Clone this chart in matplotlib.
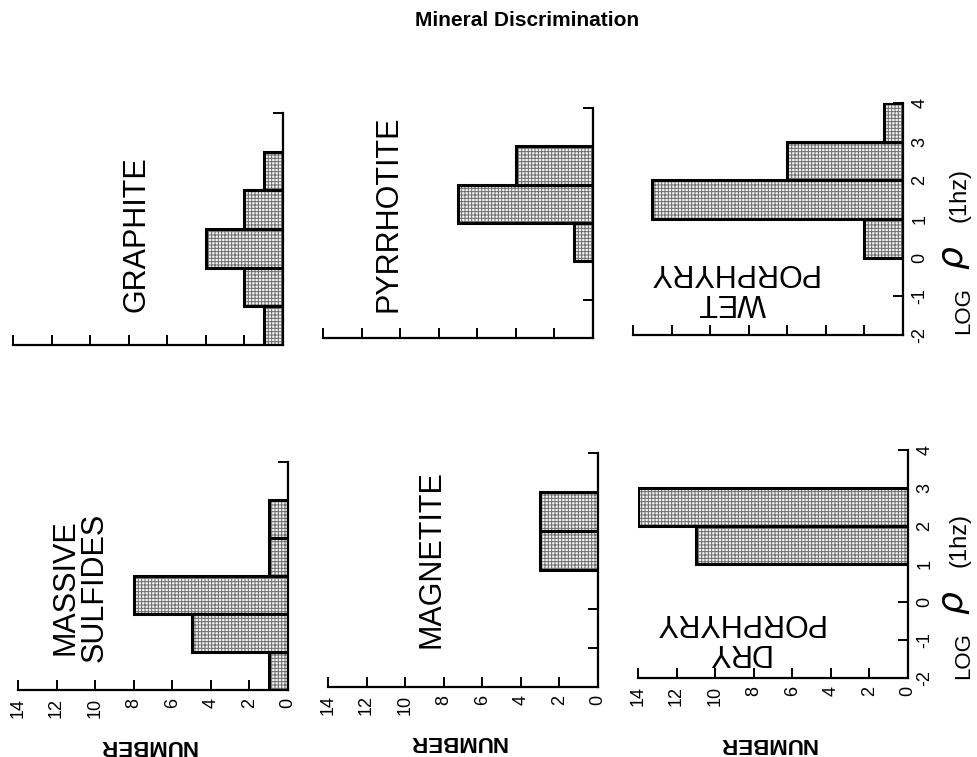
import matplotlib
matplotlib.use("Agg")
import matplotlib.pyplot as plt
import numpy as np

plt.rcParams['font.family'] = ['Liberation Sans', 'DejaVu Sans']
plt.rcParams['hatch.linewidth'] = 0.7

# log rho bins (lower edges, width 1)
bin_edges = [-2, -1, 0, 1, 2, 3]
number_ticks = [0, 2, 4, 6, 8, 10, 12, 14]
log_ticks = [-2, -1, 0, 1, 2, 3, 4]
log_tick_labels = ['-2', '-1', '0', '1', '2', '3', '4']

graphite = [1, 2, 4, 2, 1, 0]
pyrrhotite = [0, 0, 1, 7, 4, 0]
wet_porphyry = [0, 0, 2, 13, 6, 1]
massive_sulfides = [1, 5, 8, 1, 1, 0]
magnetite = [0, 0, 0, 3, 3, 0]
dry_porphyry = [0, 0, 0, 11, 14, 0]

W, H = 978, 757
fig = plt.figure(figsize=(W / 100, H / 100), dpi=100)

# (x at 14, x at 0, y at -2, y at 4) in pixels
panels = [
    (graphite, (13, 283, 345, 113), 'GRAPHITE', (136, 234), 90, False, False),
    (pyrrhotite, (323, 593, 338, 108), 'PYRRHOTITE', (389, 214), 90, False, False),
    (wet_porphyry, (633, 903, 335, 103), 'WET\nPORPHYRY', (732, 287), 180, False, True),
    (massive_sulfides, (18, 288, 690, 462), 'MASSIVE\nSULFIDES', (80, 587), 90, True, False),
    (magnetite, (328, 598, 687, 453), 'MAGNETITE', (432, 559), 90, True, False),
    (dry_porphyry, (638, 908, 678, 450), 'DRY\nPORPHYRY', (738, 637), 180, True, True),
]

for vals, (xl, xr, yb, yt), name, (tx, ty), rot, num_labels, log_labels in panels:
    ax = fig.add_axes([xl / W, 1 - yb / H, (xr - xl) / W, (yb - yt) / H])
    ax.set_xlim(14, 0)
    ax.set_ylim(-2, 4)
    ax.barh(bin_edges, vals, height=1, align='edge', left=0,
            facecolor='#f2f2f2', edgecolor='#6e6e6e', hatch='+++++', linewidth=0)
    ax.barh(bin_edges, vals, height=1, align='edge', left=0,
            facecolor='none', edgecolor='black', linewidth=2.2)
    for s in ['left', 'top']:
        ax.spines[s].set_visible(False)
    ax.spines['right'].set_linewidth(1.6)
    ax.spines['bottom'].set_linewidth(1.6)
    ax.yaxis.tick_right()
    ax.set_xticks(number_ticks)
    ax.set_yticks(log_ticks)
    ax.tick_params(direction='in', length=7, width=1.4, color='black')
    if num_labels:
        ax.set_xticklabels([str(t) for t in number_ticks], rotation=90,
                           fontsize=13)
        ax.tick_params(axis='x', pad=6)
    else:
        ax.set_xticklabels([])
    if log_labels:
        ax.set_yticklabels(log_tick_labels, rotation=90, fontsize=13,
                           va='center')
        ax.tick_params(axis='y', pad=6)
    else:
        ax.set_yticklabels([])
    ax.patch.set_alpha(0)
    fig.text(tx / W, 1 - ty / H, name, rotation=rot, ha='center',
             va='center', fontsize=22, multialignment='center',
             linespacing=1.0)

# NUMBER labels (upside down)
for x, y in [(148, 745), (458, 742), (768, 743)]:
    fig.text(x / W, 1 - y / H, 'NUMBER', rotation=180, ha='center',
             va='center', fontsize=16, fontweight='bold')

# LOG rho(1hz) labels, composed of pieces
for dy in [0, -345]:
    fig.text(964 / W, 1 - (656 + dy) / H, 'LOG', rotation=90,
             ha='center', va='center', fontsize=16)
    fig.text(955 / W, 1 - (603 + dy) / H, r'$\rho$', rotation=90,
             ha='center', va='center', fontsize=26)
    fig.text(960 / W, 1 - (540 + dy) / H, '(1hz)', rotation=90,
             ha='center', va='center', fontsize=17)

fig.text(527 / W, 1 - 20 / H, 'Mineral Discrimination', ha='center',
         va='center', fontsize=15, fontweight='bold')

fig.savefig('out.png', dpi=100)
